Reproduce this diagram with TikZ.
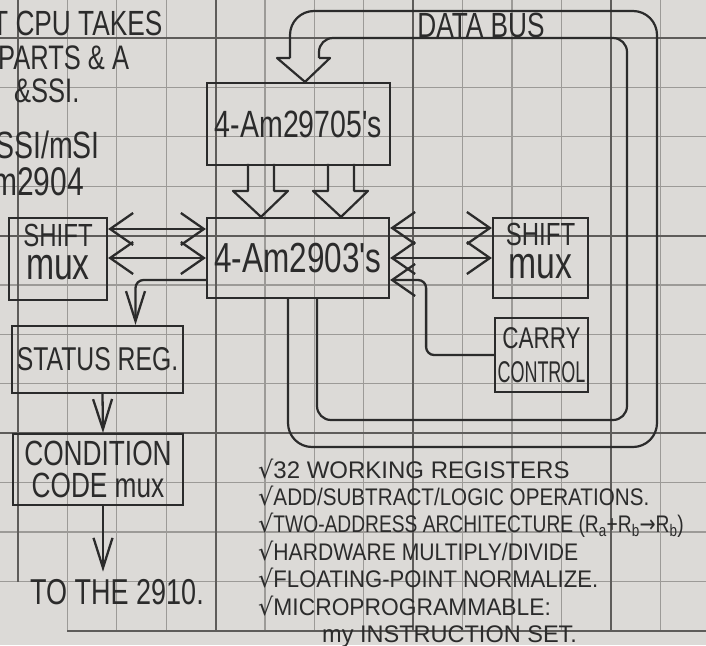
\documentclass[tikz,border=0pt]{standalone}
\usepackage{fontspec}
\usepackage{graphicx}
\setmainfont{Liberation Sans}
\newfontfamily\handfont{Liberation Sans}[FakeStretch=0.75]
\newfontfamily\symfont{DejaVu Sans}
\usetikzlibrary{arrows.meta}

\definecolor{paper}{HTML}{DCDAD7}
\definecolor{ink}{HTML}{2B2B2B}
\definecolor{gridminor}{HTML}{9C9A97}
\definecolor{gridmajor}{HTML}{5E5C5A}

\newcommand{\hand}[2]{\handfont\fontsize{#1}{#2}\selectfont}
\newcommand{\listfnt}{\fontsize{24}{24}\selectfont}
\newcommand{\feat}[2]{{\symfont\fontsize{24}{24}\selectfont √}\scalebox{#1}[1]{#2}}
% hollow arrow hanging down onto a tip coordinate
\newcommand{\fatdown}[1]{%
  \draw[hollow] ([shift={(-13,-53)}]#1) -- ([shift={(-13,-26)}]#1)
    -- ([shift={(-28,-26)}]#1) -- (#1) -- ([shift={(27,-26)}]#1)
    -- ([shift={(13,-26)}]#1) -- ([shift={(13,-53)}]#1);}

\tikzset{
  box/.style={draw=ink, line width=2.2pt, inner sep=0pt, align=center, text=ink},
  wire/.style={draw=ink, line width=2.3pt},
  hollow/.style={draw=ink, line width=2.2pt, line join=round},
  downtip/.style={-{Straight Barb[length=30pt,width=19pt]}},
  note/.style={text=ink, inner sep=0pt, anchor=base west},
  minorline/.style={draw=gridminor, line width=1.3pt},
  majorline/.style={draw=gridmajor, line width=1.8pt}
}

\begin{document}
\begin{tikzpicture}[x=1pt, y=-1pt, >={Straight Barb[length=23pt,width=32pt]}]
\fill[paper] (0,0) rectangle (706,645);
\useasboundingbox (0,0) rectangle (706,645);
\clip (0,0) rectangle (706,645);

% squared paper
\foreach \k in {1,...,13}
  \draw[minorline] ({18+49.4*\k},0) -- ({18+49.4*\k},631);
\foreach \k in {0,...,11}
  \draw[minorline] (0,{38+49.4*\k}) -- (706,{38+49.4*\k});
\foreach \k in {4,8,12}
  \draw[majorline] ({18+49.4*\k},0) -- ({18+49.4*\k},631);
\foreach \k in {0,4,8}
  \draw[majorline] (0,{38+49.4*\k}) -- (706,{38+49.4*\k});
\draw[majorline] (18,0) -- (18,582);
\draw[majorline] (67,631) -- (706,631);

% notes, top left
\node[note, font=\hand{35}{35}] (takes) at (-8,35) {T CPU TAKES};
\node[note, font=\hand{34}{34}] (parts) at (-2,69) {PARTS \& A};
\node[note, font=\hand{34}{34}] (ssi) at (14,102) {\&SSI.};
\node[note, anchor=base east, font=\hand{38}{38}] (msi) at (100,158) {SSI/mSI};
\node[note, anchor=base east, font=\hand{40}{40}] (am2904) at (84,195) {m2904};

% chips
\node[box, minimum width=183pt, minimum height=82pt, font=\hand{38}{38}] (am29705) at (298.5,124) {4-Am29705's};
\node[box, minimum width=182pt, minimum height=80pt, font=\hand{42}{42}] (am2903) at (298,258) {4-Am2903's};
\node[box, minimum width=98pt, minimum height=82pt, text depth=14pt, font=\hand{32}{33}] (shiftL) at (58,259) {SHIFT\\{\hand{45}{33}mux}};
\node[box, minimum width=95pt, minimum height=80pt, text depth=14pt, font=\hand{32}{33}] (shiftR) at (540.5,258) {SHIFT\\{\hand{45}{33}mux}};
\node[box, minimum width=93pt, minimum height=74pt, font=\hand{30}{34}] (carry) at (541.5,355) {CARRY\\\scalebox{0.8}[1]{CONTROL}};
\node[box, minimum width=171pt, minimum height=67pt, font=\hand{33}{33}] (status) at (97.5,359.5) {STATUS REG.};
\node[box, minimum width=170pt, minimum height=71pt, font=\hand{35}{32}] (cond) at (98,469.5) {CONDITION\\CODE mux};
\node[note, font=\hand{36}{36}] (to2910) at (30,604) {TO THE 2910.};

% data bus
\node[text=ink, inner sep=0pt, font=\hand{35}{35}] (busname) at (481,25) {DATA BUS};
\coordinate (bustip) at ([xshift=6.5pt]am29705.north);
\draw[hollow] (290,58) -- (277,58) -- (bustip) -- (330,58) -- (319,58);
\draw[hollow, rounded corners=24pt] (290,58) -- (290,11) -- (657,11) -- (657,447)
  -- (288,447) -- ([xshift=-10pt]am2903.south);
\draw[hollow, rounded corners=14pt] (319,58) -- (319,38) -- (627,38) -- (627,420)
  -- (317,420) -- ([xshift=19pt]am2903.south);

\coordinate (tipA) at ([xshift=-37pt]am2903.north);
\coordinate (tipB) at ([xshift=43pt]am2903.north);
\fatdown{tipA}
\fatdown{tipB}

% side paths
\coordinate (lhi) at ([yshift=29pt]am2903.west);
\coordinate (rhi) at ([yshift=30pt]am2903.east);
\draw[wire, <->] (lhi -| shiftL.east) -- (lhi);
\draw[wire, <->] (shiftL.east |- am2903.west) -- (am2903.west);
\draw[wire, <->] (rhi) -- (rhi -| shiftR.west);
\draw[wire, <->] (am2903.east) -- (shiftR.west);
\draw[wire, ->, rounded corners=8pt] (carry.west)
  -| ([xshift=36pt,yshift=-22pt]am2903.east) -- ([yshift=-22pt]am2903.east);

% status and condition codes
\draw[wire, downtip, rounded corners=8pt] ([yshift=-22pt]am2903.west) -| ([xshift=38pt]status.north);
\draw[wire, downtip] ([xshift=5pt]status.south) -- ([xshift=5pt]cond.north);
\coordinate (condout) at ([xshift=5pt]cond.south);
\draw[wire, downtip, shorten >=7pt] (condout) -- (condout |- to2910.north);

% feature list
\node[note, font=\listfnt] (feat1) at (258,478) {\feat{1.0}{32 WORKING REGISTERS}};
\node[note, font=\listfnt] (feat2) at (258,505.4) {\feat{0.86}{ADD/SUBTRACT/LOGIC OPERATIONS.}};
\node[note, font=\listfnt] (feat3) at (258,532.8) {\feat{0.8}{TWO-ADDRESS ARCHITECTURE (R\textsubscript{a}+R\textsubscript{b}{\symfont →}R\textsubscript{b})}};
\node[note, font=\listfnt] (feat4) at (258,560.2) {\feat{0.88}{HARDWARE MULTIPLY/DIVIDE}};
\node[note, font=\listfnt] (feat5) at (258,587.6) {\feat{0.92}{FLOATING-POINT NORMALIZE.}};
\node[note, font=\listfnt] (feat6) at (258,615) {\feat{0.95}{MICROPROGRAMMABLE:}};
\node[note, font=\listfnt] (feat7) at (322,642.4) {\scalebox{0.98}[1]{\underline{my} INSTRUCTION SET.}};
\end{tikzpicture}
\end{document}
